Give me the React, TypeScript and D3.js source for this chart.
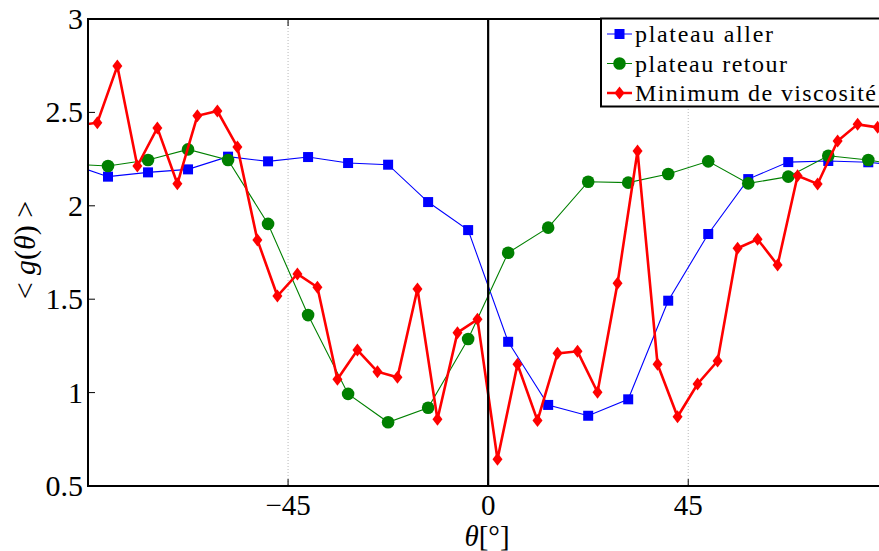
import React from "react";
import * as d3 from "d3";

const W = 879;
const H = 551;

// x positions (degrees)
const thetaPlateau = [
  -94.5, -85.5, -76.5, -67.5, -58.5, -49.5, -40.5, -31.5, -22.5, -13.5, -4.5,
  4.5, 13.5, 22.5, 31.5, 40.5, 49.5, 58.5, 67.5, 76.5, 85.5, 94.5,
];
const plateauAller = [
  2.229, 2.156, 2.179, 2.195, 2.263, 2.238, 2.261, 2.229, 2.22, 2.02, 1.87,
  1.272, 0.934, 0.876, 0.964, 1.492, 1.849, 2.143, 2.234, 2.24, 2.233, 2.21,
];
const plateauRetour = [
  2.224, 2.213, 2.245, 2.302, 2.245, 1.903, 1.415, 0.993, 0.841, 0.919, 1.287,
  1.749, 1.883, 2.129, 2.124, 2.17, 2.238, 2.12, 2.156, 2.268, 2.245, 2.21,
];
const thetaMin = [
  -92.4, -87.9, -83.4, -78.9, -74.4, -69.9, -65.4, -60.9, -56.4, -51.9, -47.4,
  -42.9, -38.4, -33.9, -29.4, -24.9, -20.4, -15.9, -11.4, -6.9, -2.4, 2.1, 6.6,
  11.1, 15.6, 20.1, 24.6, 29.1, 33.6, 38.1, 42.6, 47.1, 51.6, 56.1, 60.6, 65.1,
  69.6, 74.1, 78.6, 83.1, 87.6,
];
const minViscosite = [
  2.43, 2.445, 2.748, 2.213, 2.417, 2.118, 2.482, 2.507, 2.315, 1.817, 1.517,
  1.635, 1.564, 1.071, 1.228, 1.112, 1.082, 1.555, 0.857, 1.321, 1.392, 0.643,
  1.152, 0.85, 1.21, 1.221, 1.002, 1.585, 2.293, 1.152, 0.871, 1.046, 1.169,
  1.773, 1.821, 1.683, 2.161, 2.117, 2.347, 2.436, 2.42,
];
const xTicks = [-45, 0, 45];
const xTickLabels = ["\u221245", "0", "45"];
const yTicks = [0.5, 1, 1.5, 2, 2.5, 3];
const yTickLabels = ["0.5", "1", "1.5", "2", "2.5", "3"];
const gridX = [-45, 45];
const legendLabels = ["plateau aller", "plateau retour", "Minimum de viscosit\u00e9"];

const M = { left: 88, right: 888.3, top: 19, bottom: 486 };
const SERIF = "Liberation Serif, Tinos, Times New Roman, DejaVu Serif, serif";

export default function App() {
  const x = d3.scaleLinear().domain([-90, 90]).range([M.left, M.right]);
  const y = d3.scaleLinear().domain([0.5, 3]).range([M.bottom, M.top]);

  const blue = thetaPlateau.map((t, i) => [t, plateauAller[i]] as [number, number]);
  const green = thetaPlateau.map((t, i) => [t, plateauRetour[i]] as [number, number]);
  const red = thetaMin.map((t, i) => [t, minViscosite[i]] as [number, number]);

  const line = d3
    .line<[number, number]>()
    .x((d) => x(d[0]))
    .y((d) => y(d[1]));

  const square = (cx: number, cy: number, k: string) => (
    <rect key={k} x={cx - 5} y={cy - 5} width={10} height={10} fill="#0000ff" />
  );
  const circle = (cx: number, cy: number, k: string) => (
    <circle key={k} cx={cx} cy={cy} r={6.3} fill="#008000" />
  );
  const diamond = (cx: number, cy: number, k: string) => (
    <path
      key={k}
      d={`M${cx},${cy - 6.5}L${cx + 5},${cy}L${cx},${cy + 6.5}L${cx - 5},${cy}Z`}
      fill="#ff0000"
    />
  );

  const legendY = [34, 63.5, 93];
  const legendMarkers = [square, circle, diamond];
  const legendColors = ["#0000ff", "#008000", "#ff0000"];
  const legendWidths = [1, 1, 2.5];
  const txt = { fontFamily: SERIF };

  return (
    <svg
      width={W}
      height={H}
      style={{ position: "absolute", left: 0, top: 0, background: "#fff" }}
    >
      <rect x={0} y={0} width={W} height={H} fill="#fff" />
      <defs>
        <clipPath id="plotclip">
          <rect x={M.left} y={M.top} width={M.right - M.left} height={M.bottom - M.top} />
        </clipPath>
      </defs>

      {/* dotted grid */}
      {gridX.map((g) => (
        <line
          key={g}
          x1={x(g)}
          x2={x(g)}
          y1={M.top}
          y2={M.bottom}
          stroke="#b8b8b8"
          strokeWidth={1}
          strokeDasharray="1,2"
        />
      ))}

      <g clipPath="url(#plotclip)">
        <path d={line(blue) || ""} fill="none" stroke="#0000ff" strokeWidth={1.1} />
        {blue.map((d, i) => square(x(d[0]), y(d[1]), "b" + i))}
        <path d={line(green) || ""} fill="none" stroke="#008000" strokeWidth={1.1} />
        {green.map((d, i) => circle(x(d[0]), y(d[1]), "g" + i))}
        <path
          d={line(red) || ""}
          fill="none"
          stroke="#ff0000"
          strokeWidth={2.6}
          strokeLinejoin="miter"
        />
        {red.map((d, i) => diamond(x(d[0]), y(d[1]), "r" + i))}
      </g>

      {/* zero line */}
      <line x1={x(0)} x2={x(0)} y1={M.top} y2={M.bottom} stroke="#000" strokeWidth={2.2} />

      {/* axes frame */}
      <line x1={M.left} x2={M.right} y1={M.bottom} y2={M.bottom} stroke="#000" strokeWidth={2} />
      <line x1={M.left} x2={M.right} y1={M.top} y2={M.top} stroke="#000" strokeWidth={2} />
      <line x1={M.left} x2={M.left} y1={M.top - 1} y2={M.bottom + 1} stroke="#000" strokeWidth={2} />
      <line x1={M.right} x2={M.right} y1={M.top} y2={M.bottom} stroke="#000" strokeWidth={2} />

      {/* x ticks */}
      {xTicks.map((t, i) => (
        <g key={"xt" + t}>
          <line x1={x(t)} x2={x(t)} y1={M.bottom} y2={M.bottom - 7} stroke="#000" strokeWidth={1} />
          <line x1={x(t)} x2={x(t)} y1={M.top} y2={M.top + 7} stroke="#000" strokeWidth={1} />
          <text x={x(t)} y={515} fontSize={29} textAnchor="middle" fill="#000" style={txt}>
            {xTickLabels[i]}
          </text>
        </g>
      ))}

      {/* y ticks */}
      {yTicks.map((t, i) => (
        <g key={"yt" + t}>
          <line x1={M.left} x2={M.left + 7} y1={y(t)} y2={y(t)} stroke="#000" strokeWidth={1} />
          <line x1={M.right} x2={M.right - 7} y1={y(t)} y2={y(t)} stroke="#000" strokeWidth={1} />
          <text x={83} y={y(t) + 10} fontSize={30} textAnchor="end" fill="#000" style={txt}>
            {yTickLabels[i]}
          </text>
        </g>
      ))}

      {/* axis labels */}
      <text x={487} y={546} fontSize={29} textAnchor="middle" fill="#000" style={txt}>
        <tspan fontStyle="italic">θ</tspan>
        <tspan>[°]</tspan>
      </text>
      <text
        transform="translate(35,250) rotate(-90)"
        fontSize={30}
        textAnchor="middle"
        fill="#000"
        style={txt}
      >
        <tspan>{"< "}</tspan>
        <tspan fontStyle="italic">g</tspan>
        <tspan>(</tspan>
        <tspan fontStyle="italic">θ</tspan>
        <tspan>{") >"}</tspan>
      </text>

      {/* legend */}
      <rect x={601} y={18.5} width={300} height={88} fill="#fff" stroke="#000" strokeWidth={2} />
      {legendLabels.map((lab, i) => (
        <g key={"lg" + i}>
          <line
            x1={607}
            x2={632}
            y1={legendY[i]}
            y2={legendY[i]}
            stroke={legendColors[i]}
            strokeWidth={legendWidths[i]}
          />
          {legendMarkers[i](619.5, legendY[i], "lm" + i)}
          <text
            x={635}
            y={legendY[i] + 8}
            fontSize={24}
            fill="#000"
            style={txt}
            textLength={[138, 152, 241][i]}
            lengthAdjust="spacing"
          >
            {lab}
          </text>
        </g>
      ))}
    </svg>
  );
}
